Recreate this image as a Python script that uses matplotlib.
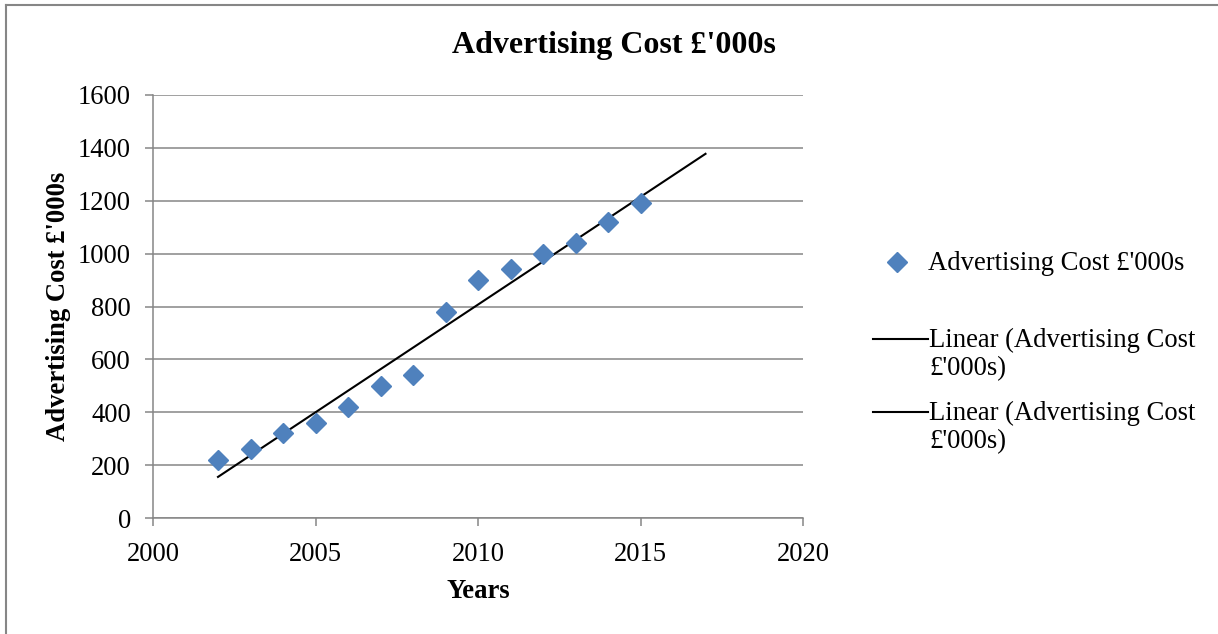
import matplotlib
matplotlib.use("Agg")
import matplotlib.pyplot as plt
from matplotlib.lines import Line2D
import numpy as np

# Advertising cost per year (£'000s)
years = [2002, 2003, 2004, 2005, 2006, 2007, 2008, 2009, 2010, 2011, 2012, 2013, 2014, 2015]
cost = [220, 260, 320, 360, 420, 500, 540, 780, 900, 940, 1000, 1040, 1120, 1190]
trend_end_year = 2017
x_ticks = [2000, 2005, 2010, 2015, 2020]
y_ticks = [0, 200, 400, 600, 800, 1000, 1200, 1400, 1600]

title = "Advertising Cost £'000s"
series_label = "Advertising Cost £'000s"
trend_label = "Linear (Advertising Cost\n£'000s)"

W, H = 1218, 634
plt.rcParams['font.family'] = ['Liberation Serif', 'DejaVu Serif']
grid_color = '#868686'
marker_color = '#4F81BD'
fs = 19.2

fig = plt.figure(figsize=(W / 100, H / 100), dpi=100)
ax = fig.add_axes([153 / W, 1 - 518 / H, (803 - 153) / W, (518 - 95) / H])

def fx(px):
    return px / W

def fy(py):
    return 1 - py / H

# Linear least-squares trendline, extended forward
slope, intercept = np.polyfit(years, cost, 1)
tx = np.array([years[0], trend_end_year])
ty = slope * tx + intercept

ax.plot(tx, ty, color='black', lw=1.5, zorder=3)
ax.plot(years, cost, linestyle='none', marker='D', ms=10,
        color=marker_color, mec=marker_color, zorder=4)

ax.set_xlim(2000, 2020)
ax.set_ylim(0, 1600)
ax.set_xticks(x_ticks)
ax.set_yticks(y_ticks)
ax.yaxis.grid(True, color=grid_color, lw=1.1)
ax.set_axisbelow(True)
for side in ['top', 'right']:
    ax.spines[side].set_visible(False)
for side in ['left', 'bottom']:
    ax.spines[side].set_color(grid_color)
    ax.spines[side].set_linewidth(1.1)
ax.tick_params(axis='both', direction='out', length=6, width=1.1,
               color=grid_color, labelsize=fs, labelcolor='black')
ax.tick_params(axis='x', pad=11)
ax.tick_params(axis='y', pad=10)

ax.set_xlabel("Years", fontsize=fs, fontweight='bold', labelpad=9)
ax.set_ylabel("Advertising Cost £'000s", fontsize=fs, fontweight='bold', labelpad=5)

fig.text(fx(614), fy(46), title, fontsize=23, fontweight='bold',
         ha='center', va='center')

# Legend drawn on the right
fig.add_artist(Line2D([fx(897)], [fy(262)], marker='D', ms=10, color=marker_color,
                      mec=marker_color, linestyle='none'))
fig.text(fx(928), fy(262 + 8), series_label, fontsize=fs, va='baseline', ha='left')
for ly in (339, 412):
    fig.add_artist(Line2D([fx(873), fx(928)], [fy(ly), fy(ly)], color='black', lw=1.5))
    for i, part in enumerate(trend_label.split('\n')):
        fig.text(fx(929), fy(ly + 8 + 28 * i), part, fontsize=fs,
                 va='baseline', ha='left')

# Outer frame (top and left edges)
fig.add_artist(Line2D([fx(5.5), fx(5.5)], [0, fy(4.5)], color=grid_color, lw=1.5))
fig.add_artist(Line2D([fx(5.5), 1], [fy(4.5), fy(4.5)], color=grid_color, lw=1.5))

fig.savefig("out.png", dpi=100, facecolor='white')
